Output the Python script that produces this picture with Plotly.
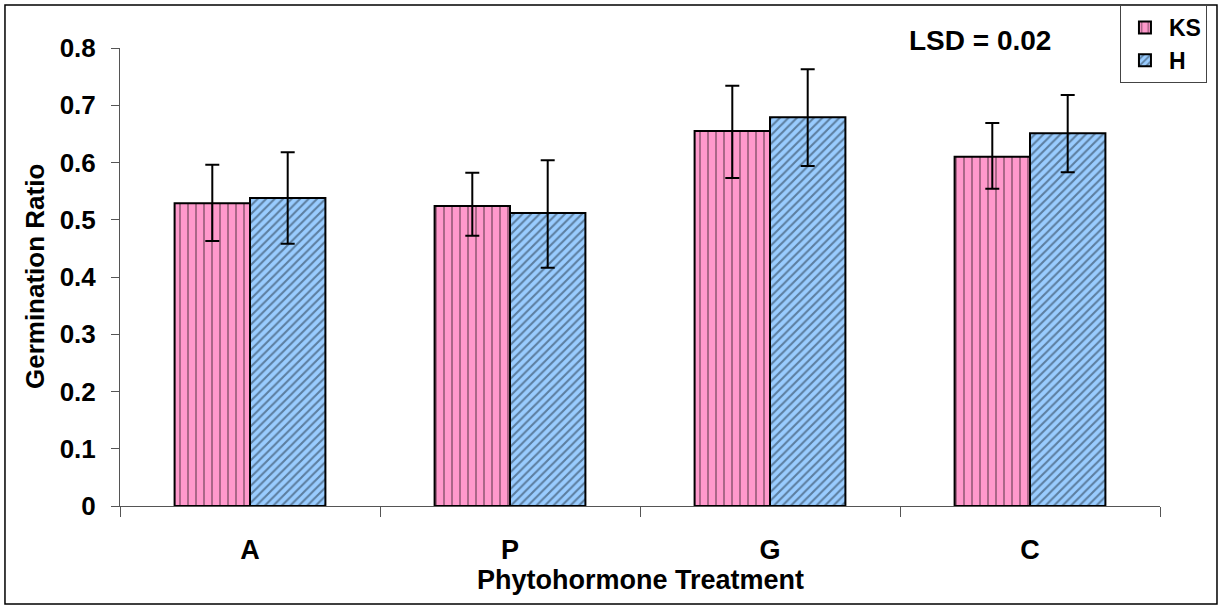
import plotly.graph_objects as go

categories = ["A", "P", "G", "C"]
ks_values = [0.529, 0.524, 0.655, 0.610]
ks_err_plus = [0.067, 0.058, 0.079, 0.059]
ks_err_minus = [0.066, 0.052, 0.082, 0.056]
h_values = [0.538, 0.512, 0.679, 0.651]
h_err_plus = [0.080, 0.092, 0.084, 0.067]
h_err_minus = [0.080, 0.096, 0.085, 0.068]

FONT = "Liberation Sans, Arial, sans-serif"

fig = go.Figure()
fig.add_trace(go.Bar(
    name="KS", x=categories, y=ks_values,
    marker=dict(color="#FF99CC", line=dict(color="black", width=2),
                pattern=dict(shape="|", fgcolor="#2a1a22", bgcolor="#FF99CC",
                             size=8, solidity=0.2)),
    error_y=dict(type="data", array=ks_err_plus, arrayminus=ks_err_minus,
                 color="black", thickness=2, width=7),
))
fig.add_trace(go.Bar(
    name="H", x=categories, y=h_values,
    marker=dict(color="#99CCFF", line=dict(color="black", width=2),
                pattern=dict(shape="/", fgcolor="#1f2f40", bgcolor="#99CCFF",
                             size=6, solidity=0.35)),
    error_y=dict(type="data", array=h_err_plus, arrayminus=h_err_minus,
                 color="black", thickness=2, width=7),
))

fig.update_layout(
    width=1220, height=608,
    margin=dict(l=120, r=60, t=48, b=102, autoexpand=False),
    plot_bgcolor="white", paper_bgcolor="white",
    barmode="group", bargap=0.42, bargroupgap=0,
    font=dict(family=FONT, color="black"),
    showlegend=True,
    legend=dict(x=0.918, y=0.9918, xref="container", yref="container",
                xanchor="left", yanchor="top",
                bordercolor="#444444", borderwidth=1, bgcolor="white",
                font=dict(family=FONT, size=23, color="black", weight="bold"),
                tracegroupgap=0, itemwidth=38),
    xaxis=dict(showline=True, linecolor="#555555", linewidth=1,
               ticks="outside", tickson="boundaries", ticklen=10,
               tickcolor="#555555",
               tickfont=dict(family=FONT, size=27, color="black", weight="bold"),
               ticklabelstandoff=20, showgrid=False, zeroline=False),
    yaxis=dict(range=[0, 0.8], dtick=0.1, showline=True, linecolor="#555555",
               linewidth=1, ticks="outside", ticklen=8, tickcolor="#555555",
               tickformat="~g",
               tickfont=dict(family=FONT, size=26, color="black", weight="bold"),
               ticklabelstandoff=10, showgrid=False, zeroline=False),
    annotations=[
        dict(text="<b>Germination Ratio</b>", x=-0.0817, y=0.5, xref="paper", yref="paper",
             textangle=-90, showarrow=False, font=dict(family=FONT, size=26, color="black"),
             xanchor="center", yanchor="middle"),
        dict(text="<b>Phytohormone Treatment</b>", x=0.5, y=-0.161, xref="paper", yref="paper",
             showarrow=False, font=dict(family=FONT, size=27, color="black"),
             xanchor="center", yanchor="middle"),
        dict(text="<b>LSD = 0.02</b>", x=0.827, y=1.017, xref="paper", yref="paper",
             showarrow=False, font=dict(family=FONT, size=28, color="black"),
             xanchor="center", yanchor="middle"),
    ],
    shapes=[
        dict(type="rect", xref="paper", yref="paper", x0=-0.1106, x1=1.0548,
             y0=-0.214, y1=1.0939, line=dict(color="black", width=1.5),
             fillcolor="rgba(0,0,0,0)", layer="below"),
    ],
)

fig.write_html("out.html", config={"displayModeBar": False},
               post_script="document.body.style.margin='0px';")
